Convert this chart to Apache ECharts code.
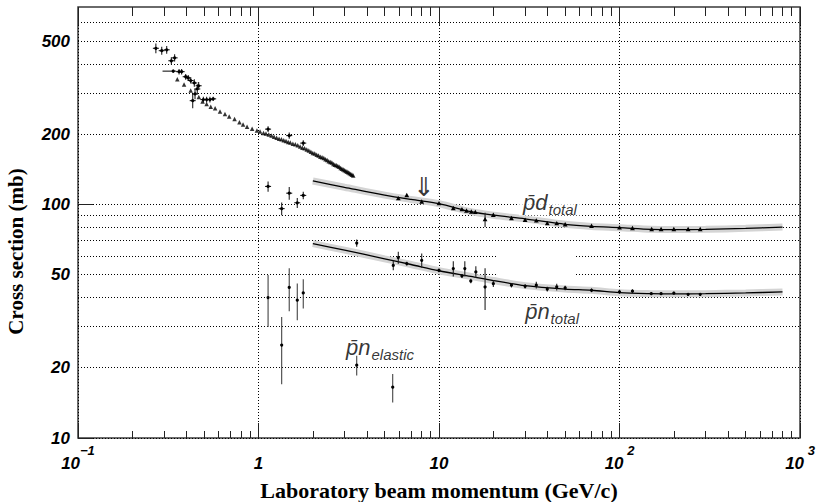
<!DOCTYPE html>
<html>
<head>
<meta charset="utf-8">
<script src="https://cdn.jsdelivr.net/npm/echarts@6/dist/echarts.min.js"></script>
<style>
  html, body { margin: 0; padding: 0; background: #fff; }
  #chart { width: 822px; height: 502px; }
</style>
</head>
<body>
<div id="chart"></div>
<script>
// ---------- axis ticks ----------
const xMajorTicks = [0.1, 1, 10, 100, 1000];
const xMinorTicks = [0.2, 0.3, 0.4, 0.5, 0.6, 0.7, 0.8, 0.9,
                     2, 3, 4, 5, 6, 7, 8, 9,
                     20, 30, 40, 50, 60, 70, 80, 90,
                     200, 300, 400, 500, 600, 700, 800, 900];
const yGridValues = [10, 20, 30, 40, 50, 60, 70, 80, 90, 100, 200, 300, 400, 500, 600];
const yLabelValues = [10, 20, 50, 100, 200, 500];
const yMajorTicks = [10, 100];

// ---------- pbar-d total, dense low-energy measurement (GeV/c, mb) ----------
const pdDenseP = [0.355, 0.387, 0.421, 0.467, 0.490, 0.516, 0.544, 0.575, 0.612, 0.652,
  0.688, 0.737, 0.784, 0.821, 0.864, 0.922, 0.98, 1.02, 1.066,
  1.10, 1.14, 1.18, 1.22, 1.26, 1.30, 1.34, 1.38, 1.42, 1.46, 1.50, 1.55, 1.60, 1.65,
  1.70, 1.75, 1.80, 1.85, 1.90, 1.95, 2.00, 2.05, 2.10, 2.15, 2.20, 2.25, 2.30, 2.35,
  2.40, 2.45, 2.50, 2.55, 2.60, 2.65, 2.70, 2.75, 2.80, 2.85, 2.90, 2.95, 3.00, 3.05,
  3.10, 3.15, 3.20, 3.25, 3.30, 3.35];
const pdDenseSigma = [343, 326, 307, 288, 276, 269, 262, 258, 250, 244,
  238, 232, 225, 220, 215, 211, 207, 205, 202,
  201, 199, 197, 195, 193, 191, 190, 188, 187, 185, 184, 182, 181, 179,
  177, 175, 174, 172, 170, 168, 166, 165, 163, 162, 160, 159, 158, 156,
  155, 153, 152, 151, 149, 148, 147, 146, 145, 143, 142, 141, 140, 139,
  138, 137, 136, 135, 134, 133];

// ---------- pbar-d total, older low-energy points with errors ----------
const pdOldP = [0.270, 0.291, 0.310, 0.329, 0.343, 0.363, 0.375, 0.395, 0.408, 0.421,
  0.441, 0.432, 0.445, 0.458, 0.466, 0.495, 0.516, 0.538, 0.561, 1.13, 1.48, 1.77];
const pdOldSigma = [466, 455, 459, 412, 424, 370, 370, 352, 348, 339,
  331, 278, 297, 312, 322, 281, 281, 281, 283, 210, 197, 183];
const pdOldErr = [22, 18, 18, 15, 15, 10, 10, 10, 10, 10,
  12, 20, 15, 15, 12, 8, 8, 8, 6, 6, 6, 5];
// one point with a wide momentum bin
const pdWideP = [0.337];
const pdWideSigma = [372];
const pdWideErr = [6];
const pdWidePLow = [0.294];
const pdWidePHigh = [0.35];

// ---------- pbar-d total, high-energy points ----------
const pdHighP = [5.95, 6.63, 8.02, 10, 12.0, 13.4, 14.2, 15.1, 15.9, 18.0, 20, 25.2, 30,
  34.6, 39.8, 44.9, 50, 70, 100, 118, 150.7, 170, 200, 240, 280];
const pdHighSigma = [105.8, 109, 102.3, 100.7, 95.9, 94.9, 93.6, 92.7, 92.4, 86, 89.8, 86.9, 85.4,
  84.9, 82.7, 82.7, 81.8, 80.5, 79.3, 78.8, 78.0, 78, 78, 78, 78];
const pdHighErr = [1, 1, 1, 1, 1, 1, 1, 1, 1, 6, 1, 1, 1,
  1, 1, 1, 1, 1, 1, 1, 0.8, 0.8, 0.8, 0.8, 0.8];

// ---------- pbar-d total fit ----------
const pdFitP = [2, 3, 5, 7, 10, 15, 20, 30, 50, 70, 100, 150, 200, 300, 500, 800];
const pdFitSigma = [126, 118.4, 109.6, 105, 100.7, 93.1, 89.9, 86.7, 82.2, 80.5, 79.5, 78.2, 78.0, 78.2, 79.0, 80.0];

// ---------- pbar-n total ----------
const pnLowP = [1.13, 1.344, 1.48, 1.64, 1.77];
const pnLowSigma = [119.4, 95.9, 111.7, 101.6, 109.3];
const pnLowErr = [6, 6, 7, 5, 4];

const pnHighP = [3.5, 5.58, 5.95, 6.63, 8.02, 10, 12.0, 13.4, 13.9, 15.0, 16.0, 18.0, 20,
  25.2, 30, 34.6, 39.8, 44.9, 50, 70, 100, 118, 150, 170, 200, 240, 280];
const pnHighSigma = [68.3, 54.8, 59.2, 55.8, 57.6, 52.2, 53.1, 49.4, 53.1, 47.0, 51.4, 44.3, 45.8,
  45.1, 44.6, 45.1, 43.4, 44.3, 43.9, 42.9, 42.2, 42.5, 41.5, 41.5, 41.7, 41.2, 41.2];
const pnHighErr = [2.5, 2.6, 3.5, 1, 4, 1, 4, 1, 4, 1, 3, 9, 1.5,
  1, 1, 1.5, 1, 1.5, 1, 0.8, 0.8, 0.8, 0.6, 0.6, 0.6, 0.6, 0.6];

// ---------- pbar-n total fit ----------
const pnFitP = [2, 3, 5, 7, 10, 15, 20, 30, 50, 70, 100, 150, 200, 300, 500, 800];
const pnFitSigma = [67.9, 63.7, 58.5, 55.3, 52.0, 49.2, 47.2, 44.9, 43.4, 42.9, 41.9, 41.5, 41.4, 41.5, 41.8, 42.2];

// ---------- pbar-n elastic ----------
const pnElP = [1.13, 1.344, 1.48, 1.64, 1.77, 3.5, 5.54];
const pnElSigma = [39.9, 25.0, 44.1, 38.9, 41.8, 20.5, 16.5];
const pnElErr = [10, 8, 9.2, 7, 6, 2, 2.3];

// ---------- drawing ----------
const SANS = 'Liberation Sans';
const SERIF = 'Liberation Serif';
const chart = echarts.init(document.getElementById('chart'), null, { renderer: 'svg' });

function errorSeries(name, P, S, E, opt) {
  opt = opt || {};
  const pLo = opt.pLow, pHi = opt.pHigh;
  return {
    type: 'custom', name: name, xAxisIndex: 0, yAxisIndex: 0, z: 6,
    data: P.map((p, i) => [p, S[i], S[i] - E[i], S[i] + E[i],
      pLo ? pLo[i] : p, pHi ? pHi[i] : p]),
    encode: { x: 0, y: [1, 2, 3] },
    silent: true,
    renderItem: function (params, api) {
      const x = api.value(0);
      const c = api.coord([x, api.value(1)]);
      const lo = api.coord([x, api.value(2)]);
      const hi = api.coord([x, api.value(3)]);
      const children = [{
        type: 'line',
        shape: { x1: c[0], y1: lo[1], x2: c[0], y2: hi[1] },
        style: { stroke: opt.barColor || '#222', lineWidth: 1.1 }
      }];
      let xl = c[0] - (opt.cap || 0), xr = c[0] + (opt.cap || 0);
      if (pLo) {
        xl = api.coord([api.value(4), api.value(1)])[0];
        xr = api.coord([api.value(5), api.value(1)])[0];
      }
      if (xr > xl) {
        children.push({ type: 'line', shape: { x1: xl, y1: c[1], x2: xr, y2: c[1] },
          style: { stroke: '#000', lineWidth: 1 } });
      }
      if (opt.marker === 'tri') {
        children.push({ type: 'polygon',
          shape: { points: [[c[0], c[1] - 2.8], [c[0] - 2.4, c[1] + 1.6], [c[0] + 2.4, c[1] + 1.6]] },
          style: { fill: '#000' } });
      } else {
        children.push({ type: 'circle', shape: { cx: c[0], cy: c[1], r: 1.6 }, style: { fill: '#000' } });
      }
      return { type: 'group', children: children };
    }
  };
}

function fitSeries(name, P, S) {
  const d = P.map((p, i) => [p, S[i]]);
  return [
    { type: 'line', name: name + ' band', data: d, smooth: 0.3, showSymbol: false, silent: true, z: 3,
      lineStyle: { color: '#d4d4d4', width: 7, cap: 'butt' } },
    { type: 'line', name: name, data: d, smooth: 0.3, showSymbol: false, silent: true, z: 4,
      lineStyle: { color: '#000', width: 1.3 } }
  ];
}

const tickStyle = { color: '#222', width: 1 };
const dotted = { color: '#000', width: 1, type: [1, 2] };

function xAx(pos, ticks, len, extra) {
  return Object.assign({
    type: 'log', logBase: 10, min: 0.1, max: 1000, position: pos,
    axisLine: { show: false },
    axisTick: { show: true, inside: true, length: len, customValues: ticks, lineStyle: tickStyle },
    axisLabel: { show: false },
    splitLine: { show: false }
  }, extra || {});
}
function yAx(ticks, len, extra) {
  return Object.assign({
    type: 'log', logBase: 10, min: 10, max: 700, position: 'left',
    axisLine: { show: false },
    axisTick: { show: true, inside: true, length: len, customValues: ticks, lineStyle: tickStyle },
    axisLabel: { show: false },
    splitLine: { show: false }
  }, extra || {});
}

function annotation(name, p, s, text, rich, bg) {
  return {
    type: 'scatter', name: name, data: [[p, s]], symbolSize: 0, silent: true, z: 8,
    label: { show: true, position: 'inside', formatter: text, rich: rich,
      backgroundColor: bg ? '#fff' : 'transparent', padding: bg ? [0, 4, 0, 4] : 0 }
  };
}
const labelRich = {
  p: { fontFamily: SANS, fontStyle: 'italic', fontSize: 22, lineHeight: 24, color: '#000', verticalAlign: 'top' },
  sub: { fontFamily: SANS, fontStyle: 'italic', fontSize: 15, lineHeight: 15, color: '#000',
    verticalAlign: 'top', padding: [11, 0, 0, 1] }
};

const option = {
  animation: false,
  backgroundColor: '#fff',
  grid: { left: 78, right: 22, top: 7, bottom: 64, show: true, borderColor: '#3a3a3a', borderWidth: 1.5,
    backgroundColor: 'transparent', containLabel: false, outerBoundsMode: 'none' },
  xAxis: [
    xAx('bottom', xMajorTicks, 15, {
      axisLabel: {
        show: true, customValues: xMajorTicks, margin: 6,
        formatter: function (v) {
          const e = Math.round(Math.log10(v));
          if (e === 0) return '{b|1}';
          if (e === 1) return '{b|10}';
          return '{b|10}{s|' + (e < 0 ? '\u2212' : ' ') + Math.abs(e) + '}';
        },
        rich: {
          b: { fontFamily: SANS, fontWeight: 'bold', fontStyle: 'italic', fontSize: 17, lineHeight: 28,
               color: '#000', verticalAlign: 'bottom' },
          s: { fontFamily: SANS, fontWeight: 'bold', fontStyle: 'italic', fontSize: 13, lineHeight: 13,
               color: '#000', verticalAlign: 'top' }
        }
      },
      splitLine: { show: true, lineStyle: dotted },
      name: 'Laboratory beam momentum (GeV/c)', nameLocation: 'middle', nameGap: 41,
      nameTextStyle: { fontFamily: SERIF, fontWeight: 'bold', fontSize: 22, color: '#000' }
    }),
    xAx('bottom', xMinorTicks, 7),
    xAx('top', xMajorTicks, 18),
    xAx('top', xMinorTicks, 9)
  ],
  yAxis: [
    yAx(yGridValues, 0, {
      axisTick: { show: false, customValues: yGridValues },
      axisLabel: { show: true, customValues: yLabelValues, margin: 8,
        fontFamily: SANS, fontWeight: 'bold', fontStyle: 'italic', fontSize: 17, color: '#000' },
      splitLine: { show: true, lineStyle: dotted },
      name: 'Cross section (mb)', nameLocation: 'middle', nameGap: 52,
      nameTextStyle: { fontFamily: SERIF, fontWeight: 'bold', fontSize: 21, color: '#000', padding: [0, 58, 0, 0] }
    }),
    yAx(yMajorTicks, 15)
  ],
  series: [
    // white patch behind part of the grid
    { type: 'line', data: [], silent: true, z: 1,
      markArea: { silent: true, itemStyle: { color: '#fff' }, data: [[{ coord: [20.9, 63] }, { coord: [56.6, 47.5] }]] } },
    ...fitSeries('pbar-d total fit', pdFitP, pdFitSigma),
    ...fitSeries('pbar-n total fit', pnFitP, pnFitSigma),
    { type: 'scatter', name: 'pbar-d total (dense)', data: pdDenseP.map((p, i) => [p, pdDenseSigma[i]]),
      symbol: 'triangle', symbolSize: 4.5, itemStyle: { color: '#000' }, silent: true, z: 5 },
    errorSeries('pbar-d total (old)', pdOldP, pdOldSigma, pdOldErr, { cap: 3 }),
    errorSeries('pbar-d total (wide bin)', pdWideP, pdWideSigma, pdWideErr, { pLow: pdWidePLow, pHigh: pdWidePHigh }),
    errorSeries('pbar-d total (high)', pdHighP, pdHighSigma, pdHighErr, { marker: 'tri' }),
    errorSeries('pbar-n total (low)', pnLowP, pnLowSigma, pnLowErr, { cap: 3 }),
    errorSeries('pbar-n total (high)', pnHighP, pnHighSigma, pnHighErr, { cap: 0 }),
    errorSeries('pbar-n elastic', pnElP, pnElSigma, pnElErr, { barColor: '#444' }),
    annotation('label pd', 41.2, 101, '{p|p\u0304d}{sub|total}', labelRich, true),
    annotation('label pn', 42.3, 34.5, '{p|p\u0304n}{sub|total}', labelRich, false),
    annotation('label el', 4.71, 24.2, '{p|p\u0304n}{sub|elastic}', labelRich, false),
    annotation('arrow', 8.26, 118.8, '{a|\u21D3}', {
      a: { fontFamily: 'DejaVu Sans', fontSize: 26, color: '#000' }
    }, false)
  ]
};
chart.setOption(option);
</script>
</body>
</html>
